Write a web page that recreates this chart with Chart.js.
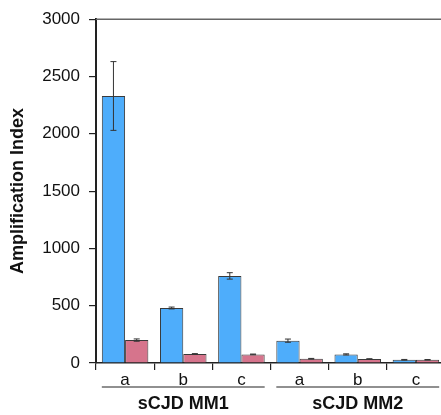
<!DOCTYPE html>
<html>
<head>
<meta charset="utf-8">
<script src="https://cdn.jsdelivr.net/npm/chart.js@4"></script>
<style>
  html, body { margin: 0; padding: 0; background: #fff; overflow: hidden; }
  #wrap { width: 445px; height: 415px; position: relative; }
</style>
</head>
<body>
<div id="wrap"><canvas id="c"></canvas></div>
<script>
const categories = ["a", "b", "c", "a", "b", "c"];
const groups = ["sCJD MM1", "sCJD MM2"];
const groupSpans = [[0, 2], [3, 5]];
const blueValues = [2330, 480, 760, 195, 75, 28];
const blueErrors = [300, 8, 28, 14, 5, 3];
const pinkValues = [200, 78, 75, 37, 35, 28];
const pinkErrors = [10, 4, 3, 3, 2, 2];
const yTicks = [0, 500, 1000, 1500, 2000, 2500, 3000];
const yTitle = "Amplification Index";

const FONT = "'Liberation Sans', Arial, sans-serif";

const errorBarPlugin = {
  id: 'errorBars',
  afterDatasetsDraw(chart) {
    const ctx = chart.ctx;
    const y = chart.scales.y;
    const errs = [blueErrors, pinkErrors];
    chart.data.datasets.forEach((ds, di) => {
      const meta = chart.getDatasetMeta(di);
      meta.data.forEach((bar, i) => {
        const v = ds.data[i];
        const e = errs[di][i];
        const yt = y.getPixelForValue(v + e);
        const yb = y.getPixelForValue(v - e);
        ctx.save();
        ctx.strokeStyle = '#333';
        ctx.lineWidth = 1;
        ctx.beginPath();
        ctx.moveTo(bar.x, yt); ctx.lineTo(bar.x, yb);
        ctx.moveTo(bar.x - 3, yt); ctx.lineTo(bar.x + 3, yt);
        ctx.moveTo(bar.x - 3, yb); ctx.lineTo(bar.x + 3, yb);
        ctx.stroke();
        ctx.restore();
      });
    });
  }
};

const decorPlugin = {
  id: 'decor',
  afterDraw(chart) {
    const ctx = chart.ctx;
    const a = chart.chartArea;
    const x = chart.scales.x;
    ctx.save();
    ctx.strokeStyle = '#666';
    ctx.lineWidth = 1.5;
    ctx.beginPath();
    ctx.moveTo(a.left, a.top); ctx.lineTo(a.right, a.top);
    ctx.stroke();
    const cw = x.getPixelForValue(1) - x.getPixelForValue(0);
    ctx.strokeStyle = '#222';
    ctx.lineWidth = 1.2;
    ctx.fillStyle = '#111';
    ctx.font = "bold 18px " + FONT;
    ctx.textAlign = 'center';
    ctx.textBaseline = 'middle';
    groupSpans.forEach((sp, gi) => {
      const x0 = x.getPixelForValue(sp[0]) - cw * 0.4;
      const x1 = x.getPixelForValue(sp[1]) + cw * 0.4;
      ctx.beginPath();
      ctx.moveTo(x0, a.bottom + 24); ctx.lineTo(x1, a.bottom + 24);
      ctx.stroke();
      ctx.fillText(groups[gi], (x0 + x1) / 2, a.bottom + 41);
    });
    ctx.restore();
  }
};

new Chart(document.getElementById('c'), {
  type: 'bar',
  data: {
    labels: categories,
    datasets: [
      { data: blueValues, backgroundColor: '#4EADFB', borderColor: '#3a3a3a', borderWidth: 1,
        categoryPercentage: 0.8, barPercentage: 1.0 },
      { data: pinkValues, backgroundColor: '#D6748C', borderColor: '#3a3a3a', borderWidth: 1,
        categoryPercentage: 0.8, barPercentage: 1.0 }
    ]
  },
  options: {
    responsive: true,
    maintainAspectRatio: false,
    animation: false,
    layout: { padding: { top: 15, right: 0, bottom: 0, left: 0 } },
    plugins: { legend: { display: false }, tooltip: { enabled: false } },
    scales: {
      x: {
        grid: { display: true, drawOnChartArea: false, drawTicks: true, tickLength: 7, color: '#222', lineWidth: 1.2, offset: true },
        border: { display: true, color: '#222', width: 1.5 },
        ticks: { color: '#111', font: { family: FONT, size: 17 }, padding: 0 },
        afterFit(s) { s.height = 52; }
      },
      y: {
        min: 0, max: 3000,
        afterBuildTicks(s) { s.ticks = yTicks.map(v => ({ value: v })); },
        grid: { display: true, drawOnChartArea: false, drawTicks: true, tickLength: 7, color: '#222', lineWidth: 1.2 },
        border: { display: true, color: '#222', width: 2 },
        ticks: { color: '#111', font: { family: FONT, size: 17 }, padding: 9, callback: v => String(v) },
        title: { display: true, text: yTitle, color: '#111', font: { family: FONT, size: 18, weight: 'bold' }, padding: { top: 7, bottom: 0 } },
        afterFit(s) { s.width = 96; }
      }
    }
  },
  plugins: [errorBarPlugin, decorPlugin]
});
</script>
</body>
</html>
